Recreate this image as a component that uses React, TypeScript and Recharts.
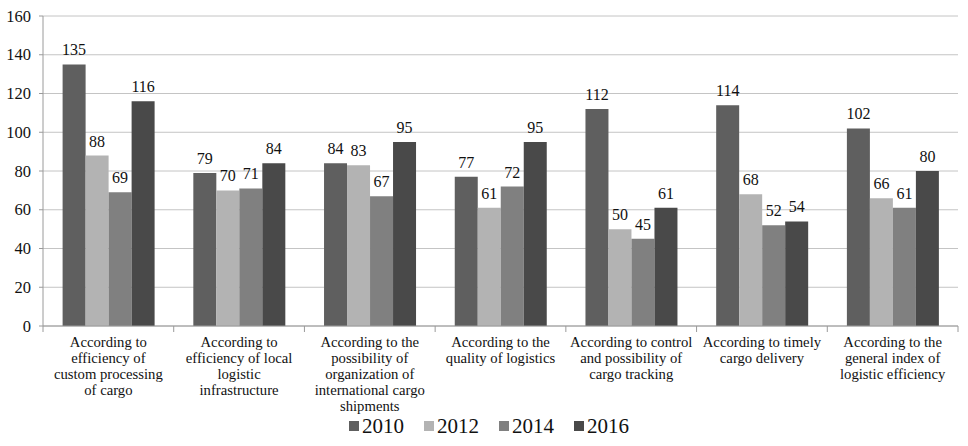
import React from "react";
import { BarChart, Bar, XAxis, YAxis, CartesianGrid, LabelList, Legend } from "recharts";

const categories = [
  "According to\nefficiency of\ncustom processing\nof cargo",
  "According to\nefficiency of local\nlogistic\ninfrastructure",
  "According to the\npossibility of\norganization of\ninternational cargo\nshipments",
  "According to the\nquality of logistics",
  "According to control\nand possibility of\ncargo tracking",
  "According to timely\ncargo delivery",
  "According to the\ngeneral index of\nlogistic efficiency",
];
const v2010 = [135, 79, 84, 77, 112, 114, 102];
const v2012 = [88, 70, 83, 61, 50, 68, 66];
const v2014 = [69, 71, 67, 72, 45, 52, 61];
const v2016 = [116, 84, 95, 95, 61, 54, 80];
const yTicks = [0, 20, 40, 60, 80, 100, 120, 140, 160];

const seriesKeys = ["2010", "2012", "2014", "2016"];
const colors: Record<string, string> = {
  "2010": "#5f5f5f",
  "2012": "#b3b3b3",
  "2014": "#808080",
  "2016": "#494949",
};

const data = categories.map((c, i) => ({
  name: c,
  "2010": v2010[i],
  "2012": v2012[i],
  "2014": v2014[i],
  "2016": v2016[i],
}));

const FONT = '"Liberation Serif", "DejaVu Serif", serif';
const HALF_BAND = 915 / 7 / 2;

const CategoryTick = (props: any) => {
  const { x, y, payload, index } = props;
  const lines = String(payload.value).split("\n");
  const axisY = y - 8;
  return (
    <g>
      <line x1={x - HALF_BAND} y1={axisY} x2={x - HALF_BAND} y2={axisY + 6} stroke="#9a9a9a" />
      {index === categories.length - 1 && (
        <line x1={x + HALF_BAND} y1={axisY} x2={x + HALF_BAND} y2={axisY + 6} stroke="#9a9a9a" />
      )}
      <text x={x} y={y} textAnchor="middle" style={{ fontFamily: FONT, fontSize: 14.7 }} fill="#111">
        {lines.map((l, i) => (
          <tspan key={i} x={x} dy={i === 0 ? 13 : 16}>
            {l}
          </tspan>
        ))}
      </text>
    </g>
  );
};

const YTick = (props: any) => {
  const { x, y, payload } = props;
  return (
    <text x={x} y={y} dy={5.5} textAnchor="end" style={{ fontFamily: FONT, fontSize: 16.5 }} fill="#111">
      {payload.value}
    </text>
  );
};

const LegendContent = () => (
  <div
    style={{
      display: "flex",
      justifyContent: "center",
      alignItems: "center",
      height: 40,
      paddingLeft: 40,
      fontFamily: FONT,
      fontSize: 21,
      color: "#111",
    }}
  >
    {seriesKeys.map((k) => (
      <div key={k} style={{ display: "flex", alignItems: "center", marginRight: 20 }}>
        <div style={{ width: 10, height: 10, background: colors[k], marginRight: 3 }} />
        <span>{k}</span>
      </div>
    ))}
  </div>
);

export default function App() {
  return (
    <div style={{ position: "absolute", left: 0, top: 0, background: "#fff", fontFamily: FONT }}>
      <BarChart
        width={968}
        height={446}
        data={data}
        margin={{ top: 16, right: 10, bottom: 0, left: 0 }}
        barCategoryGap="15%"
        barGap={0}
        style={{ fontFamily: FONT }}
      >
        <CartesianGrid vertical={false} stroke="#c4c4c4" />
        <XAxis
          dataKey="name"
          interval={0}
          height={80}
          tickLine={false}
          axisLine={{ stroke: "#9a9a9a" }}
          tick={<CategoryTick />}
        />
        <YAxis
          domain={[0, 160]}
          ticks={yTicks}
          width={43}
          tickSize={4}
          tickMargin={8}
          axisLine={{ stroke: "#9a9a9a" }}
          tickLine={{ stroke: "#9a9a9a" }}
          tick={<YTick />}
        />
        <Legend verticalAlign="bottom" height={40} content={<LegendContent />} />
        {seriesKeys.map((k) => (
          <Bar key={k} dataKey={k} fill={colors[k]} isAnimationActive={false}>
            <LabelList
              dataKey={k}
              position="top"
              offset={9}
              style={{ fontFamily: FONT, fontSize: 16, fill: "#111" }}
            />
          </Bar>
        ))}
      </BarChart>
    </div>
  );
}
